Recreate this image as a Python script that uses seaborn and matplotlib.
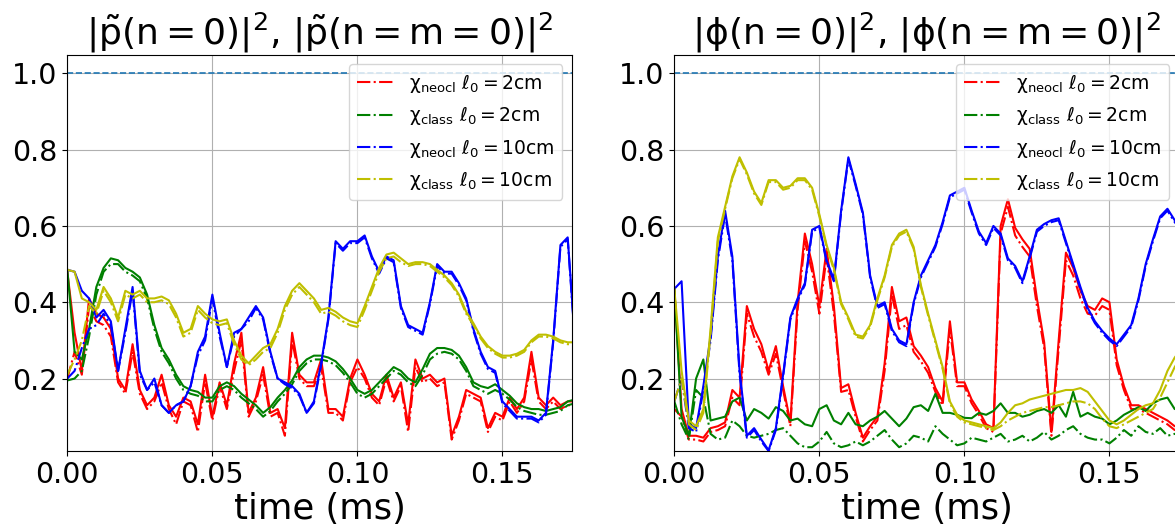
import numpy as np
import seaborn as sns
import matplotlib
matplotlib.use("Agg")
import matplotlib.pyplot as plt

plt.rcParams['mathtext.default'] = 'regular'
plt.rcParams['font.family'] = ['DejaVu Sans']

# temps (ms), pas de 0.0025
time = np.linspace(0.0, 0.175, 71)

# ---------- panneau gauche : |p(n=0)|^2 (trait plein), |p(n=m=0)|^2 (tiret-point) ----------
p_neocl_2 = [0.48, 0.32, 0.22, 0.41, 0.37, 0.36, 0.33, 0.20, 0.17, 0.29,
             0.17, 0.13, 0.15, 0.21, 0.13, 0.10, 0.15, 0.14, 0.08, 0.21,
             0.10, 0.19, 0.13, 0.24, 0.32, 0.11, 0.15, 0.23, 0.11, 0.12,
             0.07, 0.32, 0.21, 0.19, 0.19, 0.25, 0.12, 0.12, 0.10, 0.20,
             0.25, 0.21, 0.16, 0.14, 0.21, 0.15, 0.19, 0.08, 0.25, 0.20,
             0.21, 0.19, 0.20, 0.05, 0.10, 0.17, 0.16, 0.15, 0.07, 0.11,
             0.10, 0.15, 0.12, 0.15, 0.27, 0.15, 0.13, 0.15, 0.13, 0.14, 0.14]
p_neocl_2_nm = [0.20, 0.27, 0.21, 0.39, 0.35, 0.34, 0.31, 0.19, 0.16, 0.27,
                0.16, 0.12, 0.14, 0.19, 0.12, 0.08, 0.14, 0.13, 0.06, 0.19,
                0.09, 0.18, 0.12, 0.22, 0.30, 0.10, 0.14, 0.21, 0.10, 0.11,
                0.05, 0.30, 0.20, 0.18, 0.18, 0.23, 0.11, 0.11, 0.09, 0.19,
                0.23, 0.20, 0.15, 0.13, 0.20, 0.14, 0.18, 0.06, 0.23, 0.19,
                0.20, 0.18, 0.19, 0.04, 0.09, 0.16, 0.15, 0.14, 0.06, 0.10,
                0.09, 0.14, 0.11, 0.14, 0.25, 0.14, 0.12, 0.14, 0.12, 0.13, 0.13]
p_class_2 = [0.485, 0.27, 0.25, 0.33, 0.44, 0.49, 0.515, 0.51, 0.49, 0.48,
             0.465, 0.42, 0.34, 0.28, 0.25, 0.21, 0.18, 0.17, 0.165, 0.15,
             0.15, 0.18, 0.19, 0.18, 0.16, 0.145, 0.13, 0.11, 0.125, 0.15,
             0.17, 0.195, 0.23, 0.25, 0.26, 0.26, 0.255, 0.245, 0.225, 0.20,
             0.17, 0.16, 0.17, 0.19, 0.21, 0.23, 0.22, 0.20, 0.19, 0.225,
             0.265, 0.28, 0.28, 0.275, 0.26, 0.23, 0.19, 0.18, 0.175, 0.185,
             0.17, 0.155, 0.135, 0.125, 0.12, 0.12, 0.115, 0.12, 0.125, 0.14, 0.145]
p_class_2_nm = [0.195, 0.20, 0.22, 0.31, 0.42, 0.48, 0.50, 0.50, 0.48, 0.47,
                0.455, 0.41, 0.33, 0.27, 0.24, 0.20, 0.17, 0.16, 0.155, 0.14,
                0.14, 0.17, 0.18, 0.17, 0.15, 0.135, 0.12, 0.10, 0.115, 0.14,
                0.16, 0.185, 0.22, 0.24, 0.25, 0.25, 0.245, 0.235, 0.215, 0.19,
                0.16, 0.15, 0.16, 0.18, 0.20, 0.22, 0.21, 0.19, 0.18, 0.21,
                0.25, 0.265, 0.27, 0.265, 0.25, 0.22, 0.18, 0.17, 0.16, 0.17,
                0.16, 0.145, 0.125, 0.115, 0.11, 0.105, 0.105, 0.11, 0.115, 0.13, 0.135]
p_neocl_10 = [0.485, 0.48, 0.43, 0.41, 0.36, 0.38, 0.35, 0.22, 0.33, 0.44,
              0.22, 0.17, 0.20, 0.13, 0.11, 0.13, 0.14, 0.18, 0.27, 0.31,
              0.42, 0.32, 0.23, 0.32, 0.33, 0.36, 0.39, 0.36, 0.27, 0.20,
              0.19, 0.18, 0.16, 0.11, 0.14, 0.24, 0.36, 0.56, 0.54, 0.56,
              0.56, 0.575, 0.52, 0.48, 0.52, 0.51, 0.39, 0.34, 0.33, 0.32,
              0.40, 0.50, 0.48, 0.48, 0.45, 0.41, 0.33, 0.27, 0.23, 0.22,
              0.14, 0.12, 0.10, 0.10, 0.10, 0.09, 0.11, 0.30, 0.55, 0.57, 0.30]
p_neocl_10_nm = [0.20, 0.22, 0.28, 0.33, 0.34, 0.37, 0.34, 0.22, 0.32, 0.43,
                 0.21, 0.17, 0.19, 0.13, 0.11, 0.13, 0.14, 0.18, 0.26, 0.30,
                 0.41, 0.31, 0.23, 0.31, 0.33, 0.35, 0.385, 0.355, 0.265, 0.20,
                 0.185, 0.175, 0.155, 0.11, 0.135, 0.235, 0.355, 0.555, 0.535, 0.555,
                 0.555, 0.57, 0.515, 0.475, 0.515, 0.505, 0.385, 0.335, 0.325, 0.315,
                 0.395, 0.495, 0.475, 0.475, 0.445, 0.405, 0.325, 0.265, 0.225, 0.215,
                 0.135, 0.115, 0.095, 0.095, 0.095, 0.085, 0.105, 0.295, 0.545, 0.565, 0.295]
p_class_10 = [0.485, 0.48, 0.41, 0.40, 0.38, 0.44, 0.41, 0.36, 0.43, 0.42,
              0.43, 0.41, 0.41, 0.415, 0.405, 0.37, 0.32, 0.33, 0.39, 0.37,
              0.355, 0.35, 0.355, 0.30, 0.26, 0.24, 0.26, 0.28, 0.29, 0.33,
              0.39, 0.43, 0.45, 0.43, 0.41, 0.38, 0.385, 0.375, 0.36, 0.35,
              0.345, 0.39, 0.44, 0.49, 0.525, 0.53, 0.515, 0.50, 0.505, 0.505,
              0.50, 0.485, 0.47, 0.45, 0.42, 0.375, 0.345, 0.31, 0.285, 0.27,
              0.26, 0.26, 0.265, 0.275, 0.30, 0.315, 0.315, 0.31, 0.30, 0.295, 0.295]
p_class_10_nm = [0.21, 0.25, 0.30, 0.39, 0.37, 0.43, 0.40, 0.35, 0.42, 0.41,
                 0.42, 0.40, 0.40, 0.405, 0.395, 0.36, 0.31, 0.32, 0.38, 0.36,
                 0.345, 0.34, 0.345, 0.29, 0.25, 0.235, 0.25, 0.27, 0.28, 0.32,
                 0.38, 0.42, 0.44, 0.42, 0.40, 0.37, 0.375, 0.365, 0.35, 0.34,
                 0.335, 0.38, 0.43, 0.48, 0.515, 0.52, 0.505, 0.495, 0.50, 0.50,
                 0.495, 0.48, 0.465, 0.445, 0.415, 0.37, 0.34, 0.305, 0.28, 0.265,
                 0.255, 0.255, 0.26, 0.27, 0.295, 0.31, 0.31, 0.305, 0.295, 0.29, 0.29]

# ---------- panneau droit : |phi(n=0)|^2, |phi(n=m=0)|^2 ----------
phi_neocl_2 = [0.435, 0.12, 0.05, 0.05, 0.045, 0.07, 0.075, 0.085, 0.17, 0.15,
               0.39, 0.33, 0.29, 0.22, 0.285, 0.18, 0.085, 0.40, 0.58, 0.50,
               0.39, 0.54, 0.39, 0.175, 0.185, 0.11, 0.045, 0.075, 0.10, 0.24,
               0.44, 0.35, 0.36, 0.285, 0.26, 0.23, 0.175, 0.14, 0.35, 0.19,
               0.19, 0.145, 0.115, 0.08, 0.07, 0.60, 0.67, 0.595, 0.565, 0.54,
               0.41, 0.295, 0.06, 0.30, 0.53, 0.49, 0.43, 0.39, 0.38, 0.41,
               0.40, 0.25, 0.18, 0.13, 0.13, 0.12, 0.11, 0.10, 0.09, 0.075, 0.08]
phi_neocl_2_nm = [0.12, 0.10, 0.04, 0.04, 0.035, 0.06, 0.065, 0.075, 0.15, 0.13,
                  0.37, 0.31, 0.27, 0.21, 0.265, 0.17, 0.075, 0.38, 0.56, 0.48,
                  0.37, 0.52, 0.37, 0.165, 0.17, 0.10, 0.035, 0.065, 0.09, 0.22,
                  0.42, 0.33, 0.34, 0.27, 0.245, 0.215, 0.165, 0.13, 0.33, 0.18,
                  0.18, 0.135, 0.105, 0.07, 0.06, 0.58, 0.65, 0.575, 0.545, 0.52,
                  0.39, 0.28, 0.05, 0.28, 0.51, 0.47, 0.41, 0.37, 0.365, 0.39,
                  0.38, 0.235, 0.17, 0.12, 0.12, 0.11, 0.10, 0.09, 0.08, 0.065, 0.07]
phi_class_2 = [0.435, 0.10, 0.05, 0.20, 0.25, 0.09, 0.095, 0.10, 0.14, 0.15,
               0.09, 0.12, 0.11, 0.095, 0.125, 0.115, 0.09, 0.095, 0.08, 0.075,
               0.12, 0.13, 0.09, 0.08, 0.11, 0.08, 0.075, 0.09, 0.10, 0.115,
               0.095, 0.075, 0.095, 0.125, 0.13, 0.115, 0.16, 0.11, 0.11, 0.105,
               0.097, 0.096, 0.11, 0.105, 0.115, 0.135, 0.11, 0.11, 0.10, 0.105,
               0.115, 0.12, 0.11, 0.13, 0.10, 0.165, 0.10, 0.11, 0.10, 0.095,
               0.08, 0.09, 0.105, 0.115, 0.125, 0.115, 0.135, 0.145, 0.15, 0.12, 0.13]
phi_class_2_nm = [0.14, 0.08, 0.04, 0.17, 0.15, 0.055, 0.04, 0.045, 0.09, 0.075,
                  0.05, 0.045, 0.05, 0.055, 0.065, 0.07, 0.05, 0.03, 0.02, 0.02,
                  0.035, 0.06, 0.03, 0.02, 0.025, 0.035, 0.025, 0.035, 0.05, 0.065,
                  0.04, 0.02, 0.03, 0.05, 0.045, 0.035, 0.075, 0.055, 0.04, 0.025,
                  0.03, 0.045, 0.04, 0.035, 0.045, 0.055, 0.035, 0.04, 0.05, 0.035,
                  0.045, 0.06, 0.04, 0.05, 0.065, 0.075, 0.055, 0.045, 0.04, 0.04,
                  0.03, 0.045, 0.065, 0.05, 0.075, 0.06, 0.055, 0.07, 0.05, 0.055, 0.05]
phi_neocl_10 = [0.435, 0.455, 0.08, 0.07, 0.18, 0.31, 0.52, 0.64, 0.52, 0.22,
                0.05, 0.07, 0.04, 0.012, 0.07, 0.21, 0.36, 0.41, 0.45, 0.59,
                0.60, 0.51, 0.46, 0.64, 0.78, 0.71, 0.635, 0.47, 0.39, 0.40,
                0.33, 0.30, 0.29, 0.40, 0.47, 0.51, 0.55, 0.61, 0.68, 0.69,
                0.70, 0.64, 0.585, 0.555, 0.60, 0.58, 0.515, 0.495, 0.455, 0.52,
                0.59, 0.605, 0.615, 0.62, 0.56, 0.50, 0.44, 0.385, 0.35, 0.325,
                0.305, 0.29, 0.315, 0.34, 0.41, 0.50, 0.565, 0.625, 0.645, 0.615, 0.59]
phi_neocl_10_nm = [0.14, 0.20, 0.07, 0.06, 0.17, 0.30, 0.51, 0.63, 0.51, 0.21,
                   0.045, 0.065, 0.035, 0.01, 0.065, 0.205, 0.355, 0.405, 0.445, 0.585,
                   0.595, 0.505, 0.455, 0.635, 0.775, 0.705, 0.63, 0.465, 0.385, 0.395,
                   0.325, 0.295, 0.285, 0.395, 0.465, 0.505, 0.545, 0.605, 0.675, 0.685,
                   0.695, 0.635, 0.58, 0.55, 0.595, 0.575, 0.51, 0.49, 0.45, 0.515,
                   0.585, 0.60, 0.61, 0.615, 0.555, 0.495, 0.435, 0.38, 0.345, 0.32,
                   0.30, 0.285, 0.31, 0.335, 0.405, 0.495, 0.56, 0.62, 0.64, 0.61, 0.585]
phi_class_10 = [0.435, 0.22, 0.09, 0.075, 0.12, 0.33, 0.57, 0.65, 0.73, 0.78,
                0.74, 0.69, 0.66, 0.72, 0.72, 0.70, 0.705, 0.725, 0.725, 0.70,
                0.63, 0.55, 0.49, 0.40, 0.36, 0.315, 0.31, 0.34, 0.41, 0.47,
                0.55, 0.58, 0.59, 0.545, 0.445, 0.37, 0.30, 0.23, 0.14, 0.105,
                0.09, 0.085, 0.08, 0.075, 0.07, 0.085, 0.11, 0.13, 0.135, 0.145,
                0.15, 0.155, 0.16, 0.165, 0.17, 0.17, 0.175, 0.165, 0.14, 0.115,
                0.09, 0.08, 0.09, 0.105, 0.12, 0.13, 0.135, 0.17, 0.22, 0.255, 0.28]
phi_class_10_nm = [0.14, 0.20, 0.08, 0.065, 0.11, 0.32, 0.56, 0.645, 0.725, 0.775,
                   0.735, 0.685, 0.655, 0.715, 0.715, 0.695, 0.70, 0.72, 0.72, 0.695,
                   0.625, 0.545, 0.485, 0.395, 0.355, 0.31, 0.305, 0.335, 0.405, 0.465,
                   0.545, 0.575, 0.585, 0.54, 0.44, 0.365, 0.295, 0.225, 0.135, 0.10,
                   0.085, 0.08, 0.075, 0.07, 0.065, 0.075, 0.09, 0.10, 0.11, 0.115,
                   0.12, 0.125, 0.125, 0.13, 0.135, 0.14, 0.14, 0.135, 0.12, 0.095,
                   0.075, 0.07, 0.08, 0.09, 0.10, 0.11, 0.12, 0.15, 0.19, 0.23, 0.26]

colors = ['r', 'g', 'b', 'y']
labels = [r'$\chi_{neocl}$ $\ell_0 = 2$cm', r'$\chi_{class}$ $\ell_0 = 2$cm',
          r'$\chi_{neocl}$ $\ell_0 = 10$cm', r'$\chi_{class}$ $\ell_0 = 10$cm']

panels = [
    (r'$|\tilde{p}(n = 0)|^2$, $|\tilde{p}(n = m = 0)|^2$',
     [(p_neocl_2, p_neocl_2_nm), (p_class_2, p_class_2_nm),
      (p_neocl_10, p_neocl_10_nm), (p_class_10, p_class_10_nm)]),
    (r'$|\phi(n = 0)|^2$, $|\phi(n = m = 0)|^2$',
     [(phi_neocl_2, phi_neocl_2_nm), (phi_class_2, phi_class_2_nm),
      (phi_neocl_10, phi_neocl_10_nm), (phi_class_10, phi_class_10_nm)]),
]

fig = plt.figure(figsize=(11.75, 5.29), dpi=100)
positions = [[0.0573, 0.1474, 0.4293, 0.7486], [0.5739, 0.1474, 0.4293, 0.7486]]

for pos, (title, series) in zip(positions, panels):
    ax = fig.add_axes(pos)
    for (full, nm), c, lab in zip(series, colors, labels):
        sns.lineplot(x=time, y=full, ax=ax, color=c, linewidth=1.5)
        sns.lineplot(x=time, y=nm, ax=ax, color=c, linewidth=1.5,
                     linestyle='-.', label=lab)
    ax.axhline(1.0, linestyle='--', linewidth=1.2)
    ax.set_xlim(0, 0.1739)
    ax.set_ylim(0.01, 1.048)
    ax.set_xticks([0.0, 0.05, 0.10, 0.15])
    ax.set_yticks([0.2, 0.4, 0.6, 0.8, 1.0])
    ax.tick_params(labelsize=20.5)
    ax.grid(True)
    ax.set_title(title, fontsize=26)
    ax.set_xlabel('time (ms)', fontsize=25.5, labelpad=2)
    ax.legend(loc='upper right', fontsize=13.5)

fig.savefig('out.png', dpi=100)
